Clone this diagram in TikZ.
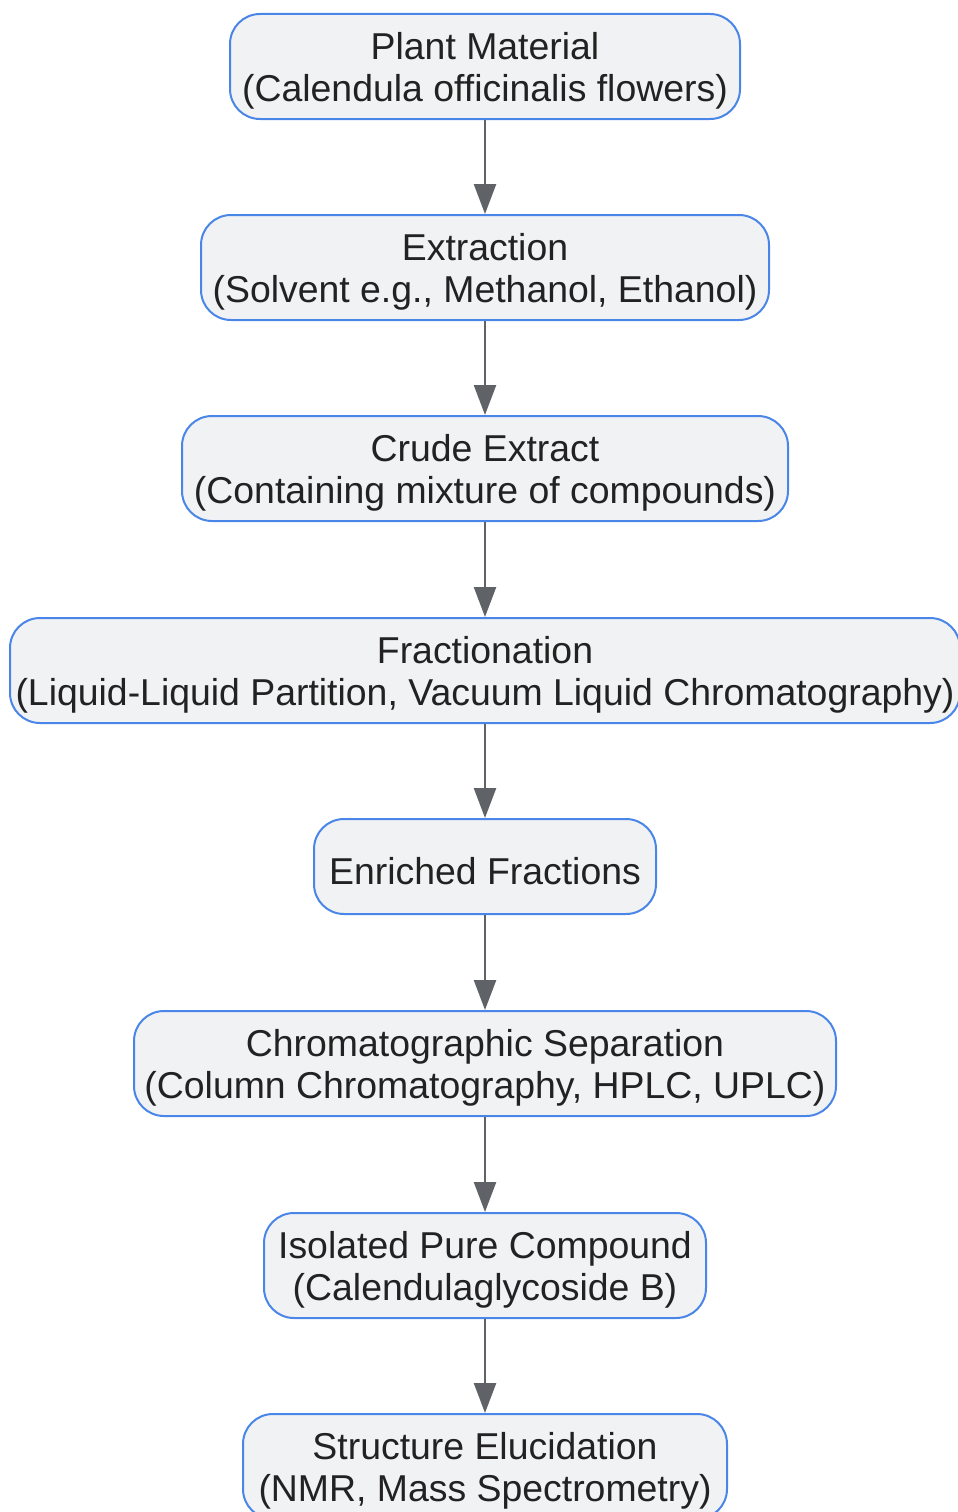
\documentclass[tikz,border=0pt]{standalone}
\usepackage{fontspec}
\setmainfont{Liberation Sans}
\usetikzlibrary{positioning, arrows.meta}

\definecolor{boxfill}{HTML}{F1F2F4}
\definecolor{boxline}{HTML}{4A86E8}
\definecolor{arrowgray}{HTML}{5F6368}
\definecolor{textdark}{HTML}{222222}

% strut that pushes the first line of a stage a little down
\newcommand{\stagestrut}{\rule{0pt}{36pt}}

\begin{document}
\begin{tikzpicture}[
        x=1pt, y=1pt,
        >={Triangle[length=30pt, width=22pt]},
        stage/.style={draw=boxline, line width=2pt, fill=boxfill, rounded corners=30pt,
            minimum height=105pt, inner sep=0pt, align=center, text=textdark,
            font=\fontsize{37.4}{42}\selectfont},
        flow/.style={->, draw=arrowgray, line width=2.5pt},
    ]

        \useasboundingbox (0,0) rectangle (958,-1512);

        % Draw the process stages
        \node[stage, minimum width=510pt] (plant) at (485,-66.5)
            {\stagestrut Plant Material\\(Calendula officinalis flowers)};
        \node[stage, minimum width=568pt] (extract) at (485,-267.5)
            {\stagestrut Extraction\\(Solvent e.g., Methanol, Ethanol)};
        \node[stage, minimum width=606pt] (crude) at (485,-468.5)
            {\stagestrut Crude Extract\\(Containing mixture of compounds)};
        \node[stage, minimum width=950pt] (fraction) at (485,-670.5)
            {\stagestrut Fractionation\\(Liquid-Liquid Partition, Vacuum Liquid Chromatography)};
        \node[stage, minimum width=342pt, minimum height=95pt] (enriched) at (485,-866.5)
            {\stagestrut Enriched Fractions};
        \node[stage, minimum width=702pt] (chroma) at (485,-1063.5)
            {\stagestrut Chromatographic Separation\\(Column Chromatography, HPLC, UPLC)};
        \node[stage, minimum width=442pt] (pure) at (485,-1265.5)
            {\stagestrut Isolated Pure Compound\\(Calendulaglycoside B)};
        \node[stage, minimum width=484pt] (struct) at (485,-1466.5)
            {\stagestrut Structure Elucidation\\(NMR, Mass Spectrometry)};

        % Connect each stage with the next one
        \foreach \source / \dest in {plant/extract, extract/crude, crude/fraction,
                fraction/enriched, enriched/chroma, chroma/pure, pure/struct}
            \draw[flow] (\source) -- (\dest);
    \end{tikzpicture}
\end{document}
